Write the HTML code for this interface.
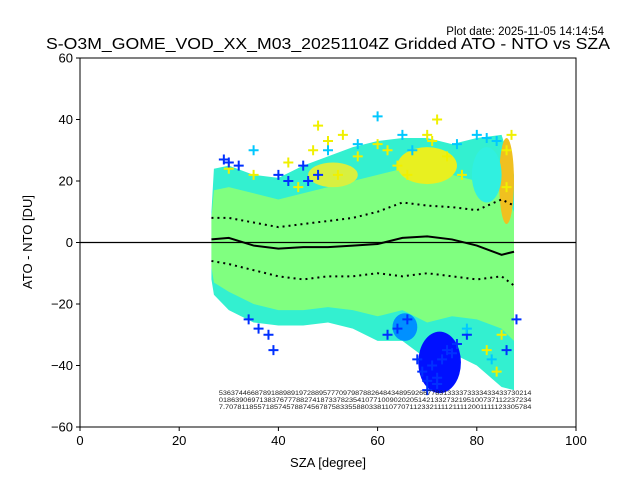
<!DOCTYPE html>
<html><head><meta charset="utf-8"><style>
html,body{margin:0;padding:0;background:#fff;}
svg{display:block;font-family:"Liberation Sans","DejaVu Sans",sans-serif;}
</style></head><body>
<svg id="c" width="640" height="480" viewBox="0 0 640 480">
<text x="604" y="35" text-anchor="end" font-size="11.5">Plot date: 2025-11-05 14:14:54</text>
<text x="328" y="49" text-anchor="middle" font-size="15.5" textLength="564" lengthAdjust="spacingAndGlyphs">S-O3M_GOME_VOD_XX_M03_20251104Z Gridded ATO - NTO vs SZA</text>
<g id="plot"></g>
<text x="328" y="467" text-anchor="middle" font-size="13">SZA [degree]</text>
<text transform="translate(32,242) rotate(-90)" text-anchor="middle" font-size="13">ATO - NTO [DU]</text>
</svg>
<script>
const szaGrid=[26.5,27,30,35,40,45,50,55,60,65,70,75,80,85,87.5];
const upperEnv=[10,24,25,22,21,25,28,31,33,34,34,32,34,35,22];
const lowerEnv=[-12,-17,-22,-26,-27,-27,-26,-28,-32,-32,-38,-36,-40,-47,-48];
const cyanTop=[8,17,18,16,14,16,18,20,22,24,24,22,20,18,10];
const cyanBot=[-8,-13,-16,-20,-22,-22,-21,-22,-24,-22,-26,-24,-25,-28,-32];
const meanSza=[26.5,30,35,40,45,50,55,60,65,70,75,80,85,87.5];
const meanVal=[1,1.5,-1,-2,-1.5,-1.5,-1,-0.5,1.5,2,1,-1,-4,-3];
const upSd=[8,8,6.5,5,6,7,8,10,13,12,11.5,10.5,14,12];
const loSd=[-6,-7,-9,-11,-12,-11,-11,-10,-11,-10,-11,-12,-11,-14];
const yellowX=[44,47,50,53,56,60,64,70,72,74,77,86,86,87,85,30,35,42,62,66,71,82,84,48,52];
const yellowY=[18,30,33,35,28,32,25,35,40,28,22,30,18,35,-30,24,22,26,30,22,33,-35,-42,38,22];
const blueX=[30,32,34,36,38,40,42,45,46,48,39,29,62,64,66,68,69,70,71,72,73,74,75,76,70,72,78,88,86];
const blueY=[26,25,-25,-28,-30,22,20,25,20,22,-35,27,-30,-28,-25,-38,-42,-45,-40,-46,-38,-35,-36,-33,-48,-44,-30,-25,-35];
const cyanX=[60,65,67,80,82,84,35,50,56,76,78,83];
const cyanY=[41,35,30,35,34,33,30,30,32,32,-28,-38];
const xTicks=[0,20,40,60,80,100];
const yTicks=[-60,-40,-20,0,20,40,60];
const statRows=["5 3 6 3 7 4 4 6 6 8 7 8 9 1 8 8 9 8 9 1 9 7 2 8 8 9 5 7 7 7 0 9 7 9 8 7 8 8 2 6 4 8 4 3 4 8 9 5 9 2 6 6 7 7 8 3 1 3 3 3 3 7 3 3 3 3 4 3 3 4 3 3 7 3 0 2 1 4","0 1 8 6 3 9 0 6 9 7 1 3 8 3 7 6 7 7 7 8 8 2 7 4 1 8 7 3 3 7 8 2 3 5 4 1 0 7 7 1 0 0 9 0 2 0 2 0 5 1 4 2 1 3 3 2 7 3 2 1 9 5 1 0 0 7 3 7 1 1 2 2 3 7 2 3 4","7.7 0 7 8 1 1 8 5 5 7 1 8 5 7 4 5 7 8 8 7 4 5 6 7 8 7 5 8 3 3 5 5 8 8 0 3 3 8 1 1 0 7 7 0 7 1 1 2 3 3 2 1 1 1 1 2 1 1 1 1 2 0 0 1 1 1 1 1 2 3 3 0 5 7 8 4"];
const L=80,R=576,T=58,B=427;
const sx=v=>L+(v-0)/(100)*(R-L);
const sy=v=>T+(60-v)/120*(B-T);
const NS="http://www.w3.org/2000/svg";
const g=document.getElementById('plot');
function mk(t,a,p){const e=document.createElementNS(NS,t);for(const k in a)e.setAttribute(k,a[k]);(p||g).appendChild(e);return e;}
const frame=mk('rect',{x:L,y:T,width:R-L,height:B-T,fill:'#fff',stroke:'none'});


function band(top,bot,fill,name){
  let d='M'+szaGrid.map((s,i)=>sx(s)+','+sy(top[i])).join('L');
  for(let i=szaGrid.length-1;i>=0;i--)d+='L'+sx(szaGrid[i])+','+sy(bot[i]);
  const p=mk('path',{d:d+'Z',fill:fill});
  
  
}
band(upperEnv,lowerEnv,'#33f0d0','scatter-envelope');
band(cyanTop,cyanBot,'#80ff80','scatter-core');
function blob(cx,cy,rx,ry,col,name){
  const e=mk('ellipse',{cx:sx(cx),cy:sy(cy),rx:sx(cx+rx)-sx(cx),ry:sy(cy-ry)-sy(cy),fill:col});
  
  
}
blob(70,25,6,6,'#e8f020','yellow-patch');
blob(51,22,5,4,'#d8f040','yellow-patch');
blob(86,20,1.5,14,'#f0c020','orange-patch');
blob(82,22,3,9,'#30f0e0','cyan-top-patch');
blob(72.5,-39,4.3,10,'#0010ff','blue-cluster');
blob(65.5,-27.5,2.5,4.5,'#0090ff','cyan-patch');
function crosses(xs,ys,col,name){
  xs.forEach((x,i)=>{const cx=sx(x),cy=sy(ys[i]);
    const p=mk('path',{d:`M${cx-5},${cy}H${cx+5}M${cx},${cy-5}V${cy+5}`,stroke:col,'stroke-width':2});
    
    });
}
crosses(yellowX,yellowY,'#f0f000','yellow-point');
crosses(blueX,blueY,'#0030ff','blue-point');
crosses(cyanX,cyanY,'#00c8ff','cyan-point');
const z=mk('line',{x1:L,x2:R,y1:sy(0),y2:sy(0),stroke:'#000','stroke-width':1.3});


function line(vals,name,dash,w){
  const p=mk('polyline',{points:meanSza.map((s,i)=>sx(s)+','+sy(vals[i])).join(' '),fill:'none',stroke:'#000','stroke-width':w});
  if(dash)p.setAttribute('stroke-dasharray',dash);
  
  
}
line(meanVal,'mean-line',null,2);
line(upSd,'upper-std-line','2 4',2);
line(loSd,'lower-std-line','2 4',2);
statRows.forEach((r,i)=>{
  const t=mk('text',{x:sx(28),y:395+i*7,'font-size':6.3,textLength:sx(91)-sx(28),lengthAdjust:'spacingAndGlyphs',fill:'#222'});
  t.textContent=r.replace(/ /g,'');
  
  
});
const ax=mk('rect',{x:L,y:T,width:R-L,height:B-T,fill:'none',stroke:'#000','stroke-width':1});


xTicks.forEach(v=>{
  const tk=mk('line',{x1:sx(v),x2:sx(v),y1:B,y2:B+4,stroke:'#000'});
  
  
  const t=mk('text',{x:sx(v),y:B+18,'text-anchor':'middle','font-size':13});
  t.textContent=v;
  
  
});
yTicks.forEach(v=>{
  const tk=mk('line',{x1:L-4,x2:L,y1:sy(v),y2:sy(v),stroke:'#000'});
  
  
  const t=mk('text',{x:L-7,y:sy(v)+4.5,'text-anchor':'end','font-size':13});
  t.textContent=v<0?'\u2212'+(-v):v;
  
  
});
</script>
</body></html>
